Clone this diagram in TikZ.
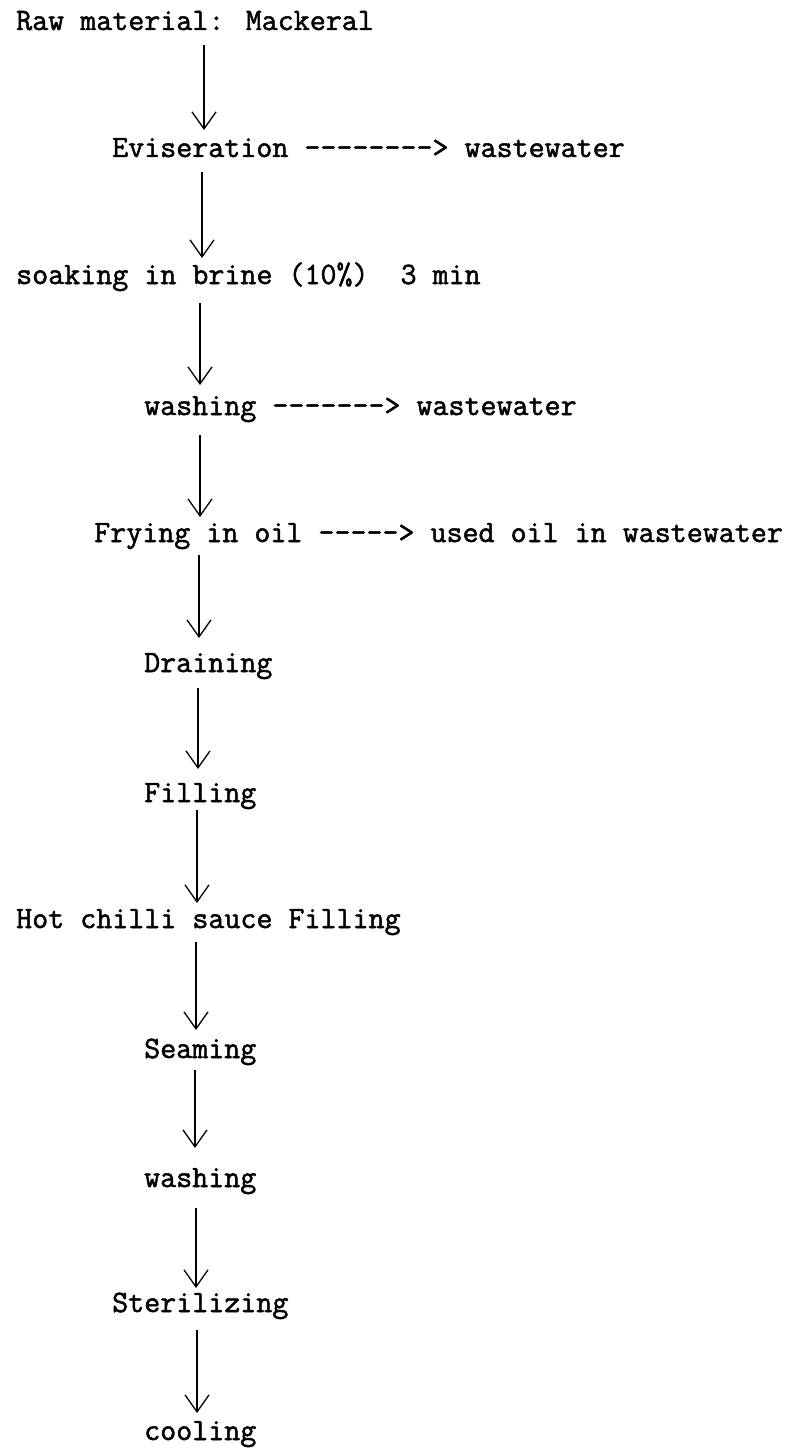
\documentclass[tikz,border=0pt]{standalone}
\usepackage{fontspec}
\newfontfamily\monofnt[FakeBold=1.6]{Latin Modern Mono}
\usetikzlibrary{arrows.meta}
\begin{document}
\begin{tikzpicture}[x=1pt,y=-1pt,
  lbl/.style={anchor=base west, inner sep=0pt, font=\monofnt\fontsize{31.1}{34}\selectfont},
  flow/.style={line width=1.3pt, -{Straight Barb[length=17pt,width=24pt,line width=1.3pt]}}]
\useasboundingbox[fill=white] (0,0) rectangle (806,1450);
\node[lbl] (raw)  at (16,30)   {Raw material: Mackeral};
\node[lbl] (evis) at (112,157) {Eviseration --------> wastewater};
\node[lbl] (soak) at (16,284)  {soaking in brine (10\%)~ 3 min};
\node[lbl] (wash) at (144,415) {washing -------> wastewater};
\node[lbl] (fry)  at (94,542)  {Frying in oil -----> used oil in wastewater};
\node[lbl] (drain) at (144,672) {Draining};
\node[lbl] (fill) at (144,802) {Filling};
\node[lbl] (hot)  at (16,928)  {Hot chilli sauce Filling};
\node[lbl] (seam) at (144,1058) {Seaming};
\node[lbl] (washb) at (144,1187) {washing};
\node[lbl] (ster) at (112,1312) {Sterilizing};
\node[lbl] (cool) at (144,1440) {cooling};
% arrow endpoints
\coordinate (a1s) at (204,45);   \coordinate (a1e) at (204,130);
\coordinate (a2s) at (202,172);  \coordinate (a2e) at (202,258);
\coordinate (a3s) at (200,303);  \coordinate (a3e) at (200,385);
\coordinate (a4s) at (200,435);  \coordinate (a4e) at (200,517);
\coordinate (a5s) at (199,555);  \coordinate (a5e) at (199,638);
\coordinate (a6s) at (198,688);  \coordinate (a6e) at (198,769);
\coordinate (a7s) at (197,810);  \coordinate (a7e) at (197,903);
\coordinate (a8s) at (196,942);  \coordinate (a8e) at (196,1030);
\coordinate (a9s) at (195,1070); \coordinate (a9e) at (195,1148);
\coordinate (a10s) at (196,1208); \coordinate (a10e) at (196,1288);
\coordinate (a11s) at (197,1330); \coordinate (a11e) at (197,1413);
\foreach \i in {1,...,11} {\draw[flow] (a\i s) -- (a\i e);}
\end{tikzpicture}
\end{document}
